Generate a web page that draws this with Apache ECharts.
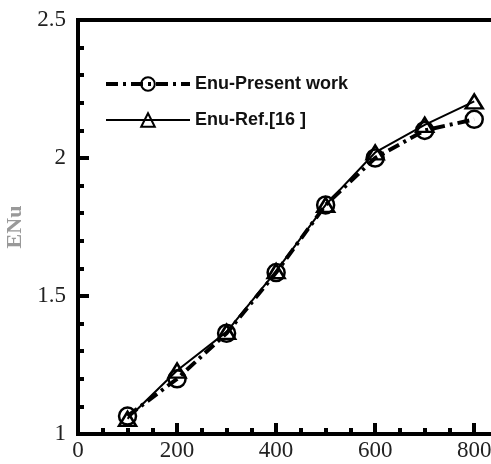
<!DOCTYPE html>
<html><head><meta charset="utf-8">
<script src="https://cdn.jsdelivr.net/npm/echarts@6/dist/echarts.min.js"></script>
<style>html,body{margin:0;padding:0;background:#fff}#c{width:491px;height:464px}</style>
</head><body><div id="c"></div>
<script>
const xValues = [100, 200, 300, 400, 500, 600, 700, 800];
const presentWork = [1.065, 1.20, 1.365, 1.585, 1.83, 2.00, 2.10, 2.14];
const ref16 = [1.055, 1.23, 1.37, 1.59, 1.83, 2.02, 2.12, 2.205];
const seriesNames = ['Enu-Present work', 'Enu-Ref.[16 ]'];

const chart = echarts.init(document.getElementById('c'));
const serif = 'Liberation Serif';
chart.setOption({
  animation: false,
  grid: {left: 78, top: 20, bottom: 30, right: -8, outerBoundsMode: 'none', containLabel: false,
    show: true, borderColor: '#000', borderWidth: 4, backgroundColor: 'transparent'},
  legend: {
    left: 99, top: 70, orient: 'vertical', itemGap: 18, itemWidth: 84, itemHeight: 17,
    textStyle: {fontFamily: 'Liberation Sans', fontWeight: 'bold', fontSize: 18, color: '#111'},
    data: [
      {name: seriesNames[0], lineStyle: {width: 4}},
      {name: seriesNames[1], lineStyle: {width: 2}}
    ]
  },
  xAxis: {
    type: 'value', min: 0, max: 850, interval: 200,
    axisLine: {show: true, lineStyle: {color: '#000', width: 4}},
    axisTick: {show: true, inside: true, length: 11, lineStyle: {color: '#000', width: 4}},
    minorTick: {show: true, splitNumber: 4, length: 6, lineStyle: {color: '#000', width: 4}},
    splitLine: {show: false},
    axisLabel: {fontFamily: serif, fontSize: 23, color: '#222', margin: 5,
      formatter: v => (v <= 800 ? String(v) : '')}
  },
  yAxis: {
    type: 'value', min: 1, max: 2.5, interval: 0.5,
    name: 'ENu', nameLocation: 'middle', nameGap: 52, nameRotate: 90,
    nameTextStyle: {fontFamily: serif, fontWeight: 'bold', fontSize: 22, color: '#999'},
    axisLine: {show: true, lineStyle: {color: '#000', width: 4}},
    axisTick: {show: true, inside: true, length: 11, lineStyle: {color: '#000', width: 4}},
    minorTick: {show: true, splitNumber: 5, length: 6, lineStyle: {color: '#000', width: 4}},
    splitLine: {show: false},
    axisLabel: {fontFamily: serif, fontSize: 23, color: '#222', margin: 12,
      formatter: v => String(v)}
  },
  series: [
    {
      name: seriesNames[0], type: 'line', data: xValues.map((x, i) => [x, presentWork[i]]),
      symbol: 'circle', symbolSize: 17,
      itemStyle: {color: 'rgba(255,255,255,0)', borderColor: '#000', borderWidth: 2.5},
      lineStyle: {color: '#000', width: 4, type: [12, 5, 3, 5]},
      z: 3
    },
    {
      name: seriesNames[1], type: 'line', data: xValues.map((x, i) => [x, ref16[i]]),
      symbol: 'triangle', symbolSize: [17, 14],
      itemStyle: {color: 'rgba(255,255,255,0)', borderColor: '#000', borderWidth: 2.5},
      lineStyle: {color: '#000', width: 2, type: 'solid'},
      z: 2
    }
  ]
});
</script></body></html>
